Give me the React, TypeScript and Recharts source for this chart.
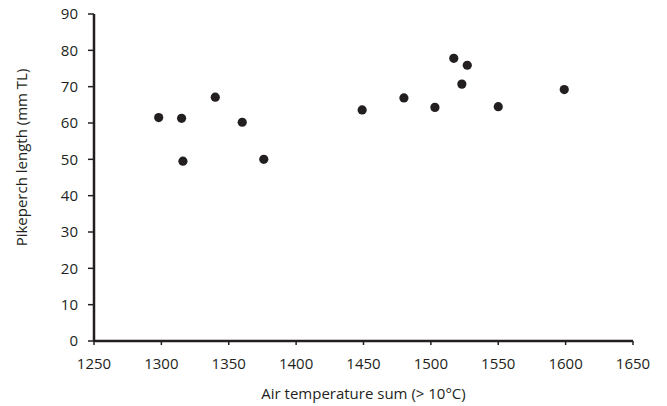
import { ScatterChart, Scatter, XAxis, YAxis, ZAxis } from "recharts";

// air temperature sum (> 10°C) vs pikeperch length (mm TL)
const tempSum = [1298, 1315, 1316, 1340, 1360, 1376, 1449, 1480, 1503, 1517, 1527, 1523, 1550, 1599];
const lengthTL = [61.5, 61.3, 49.5, 67.1, 60.2, 50.0, 63.6, 66.9, 64.3, 77.8, 75.9, 70.7, 64.5, 69.2];

const xTicks = [1250, 1300, 1350, 1400, 1450, 1500, 1550, 1600, 1650];
const yTicks = [0, 10, 20, 30, 40, 50, 60, 70, 80, 90];

const points = tempSum.map((t, i) => ({ x: t, y: lengthTL[i] }));

const INK = "#231f20";
const FONT = "'Open Sans', sans-serif";

const Dot = (props: any) => <circle cx={props.cx} cy={props.cy} r={4.6} fill={INK} />;

// rotated y title, sits a bit above the plot's middle like the original
const YTitle = (props: any) => {
  const vb = props.viewBox;
  const x = 21;
  const y = vb.y + vb.height / 2 - 20;
  return (
    <text x={x} y={y} transform={`rotate(-90, ${x}, ${y})`} textAnchor="middle" dominantBaseline="central" fill={INK} fontSize={15} fontFamily={FONT}>
      Pikeperch length (mm TL)
    </text>
  );
};

export default function App() {
  return (
    <div style={{ position: "absolute", left: 0, top: 0, width: 667, height: 406, background: "#fff" }}>
      <ScatterChart width={667} height={406} margin={{ top: 14, right: 34, bottom: 0, left: 0 }}>
        <XAxis
          type="number"
          dataKey="x"
          domain={[1250, 1650]}
          ticks={xTicks}
          interval={0}
          height={65}
          axisLine={{ stroke: INK, strokeWidth: 2.5 }}
          tickLine={{ stroke: INK, strokeWidth: 1.5 }}
          tickSize={4}
          tickMargin={13}
          tick={{ fill: INK, fontSize: 15, fontFamily: FONT }}
          label={{ value: "Air temperature sum (> 10°C)", position: "insideBottom", offset: 7, fill: INK, fontSize: 15, fontFamily: FONT }}
        />
        <YAxis
          type="number"
          dataKey="y"
          domain={[0, 90]}
          ticks={yTicks}
          interval={0}
          width={94}
          axisLine={{ stroke: INK, strokeWidth: 2.5 }}
          tickLine={{ stroke: INK, strokeWidth: 1.5 }}
          tickSize={6}
          tickMargin={10}
          tick={{ fill: INK, fontSize: 15, fontFamily: FONT }}
          label={<YTitle />}
        />
        <ZAxis range={[64, 64]} />
        <Scatter data={points} fill={INK} shape={Dot} isAnimationActive={false} />
      </ScatterChart>
    </div>
  );
}
